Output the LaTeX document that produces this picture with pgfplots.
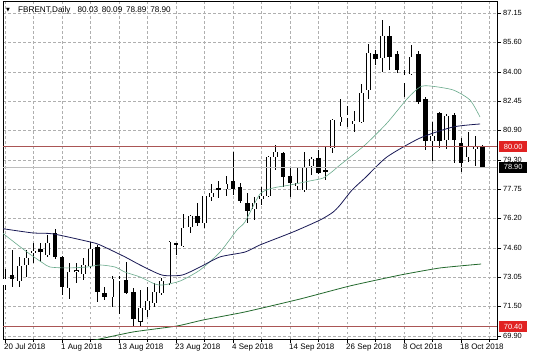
\documentclass[border=0pt]{standalone}
\usepackage{pgfplots}
\usepackage{pgfplotstable}
\pgfplotsset{compat=1.18}
\usepackage{fontspec}
\setmainfont{Liberation Sans}
\newfontfamily\dejavu{DejaVu Sans}
\definecolor{gridc}{RGB}{175,175,175}
\definecolor{maFast}{RGB}{105,170,140}
\definecolor{maMid}{RGB}{25,25,85}
\definecolor{maSlow}{RGB}{35,105,45}
\definecolor{hline}{RGB}{170,85,85}
\definecolor{boxred}{RGB}{225,35,35}
\definecolor{bidc}{RGB}{190,190,190}
% i = bar index, l = low, bl = body low, bh = body high, h = high
\pgfplotstableread{
i l bl bh h
0 72.35 72.62 72.94 73.47
2 72.51 72.83 73.63 74.12
3 73.05 73.69 74.06 74.49
4 73.79 74.33 74.44 74.86
6 74.12 74.22 74.86 75.29
9 71.87 72.46 73.31 73.79
10 72.73 73.31 73.40 73.79
11 72.89 73.21 73.69 74.06
12 73.53 73.63 74.54 74.92
15 71.45 71.98 72.94 73.10
16 71.07 72.83 72.94 73.10
19 70.43 70.69 71.39 72.35
20 70.91 71.28 71.77 72.51
21 71.45 71.66 72.25 72.73
22 72.09 72.19 72.83 72.99
23 72.62 72.73 74.92 74.97
25 74.65 74.70 75.67 76.41
26 75.40 75.72 76.31 76.36
28 75.67 75.93 77.37 77.40
29 77.11 77.32 77.53 78.02
31 77.37 77.75 78.02 78.44
35 76.09 76.68 77.00 77.32
36 76.89 77.21 77.37 77.85
37 77.32 77.37 79.46 79.51
38 78.76 79.46 79.72 80.10
41 77.69 77.91 78.07 78.92
42 77.59 77.69 78.87 79.72
43 78.50 78.98 79.35 79.46
46 79.67 79.94 81.43 81.49
47 81.11 81.33 81.59 82.56
48 81.06 81.54 81.70 82.18
49 80.79 81.22 81.38 81.91
50 81.27 81.33 82.88 83.36
51 82.56 83.04 85.01 85.49
53 83.99 84.75 85.92 86.78
56 82.66 83.41 83.84 84.10
57 83.84 83.89 84.80 85.44
60 79.24 80.31 80.58 81.33
62 79.89 80.37 81.65 81.75
65 79.19 79.46 79.99 80.79
66 78.98 79.89 80.05 80.58
}\bull
\pgfplotstableread{
i l bl bh h
1 72.51 72.94 73.15 74.49
5 73.85 74.38 74.54 74.86
7 74.01 74.12 75.40 75.61
8 72.09 72.51 74.12 74.15
13 71.71 72.25 74.65 74.76
14 71.82 71.98 72.19 72.51
17 72.14 72.19 72.89 73.85
18 70.35 70.80 72.25 72.46
24 74.22 74.76 74.86 74.88
27 75.77 75.93 76.31 77.00
30 77.27 77.69 77.80 78.18
32 77.43 77.75 78.18 79.72
33 77.00 77.11 77.85 78.07
34 75.93 76.57 77.00 77.53
39 77.85 78.39 79.67 79.72
40 77.32 78.07 78.44 78.92
44 78.55 78.60 79.40 79.83
45 78.23 78.66 78.76 79.99
52 84.37 84.69 84.96 85.17
54 84.10 84.80 85.92 86.46
55 83.94 84.10 84.96 85.12
58 82.29 82.40 84.96 85.12
59 79.83 80.31 82.56 82.66
61 79.94 80.31 81.81 81.86
63 79.14 80.37 81.70 81.81
64 78.66 79.14 80.21 80.47
67 78.89 78.90 80.03 80.09
}\bear
\pgfplotsset{
  wick/.style={draw=none, mark=none, error bars/.cd, y dir=both, y explicit, error mark=none,
    error bar style={draw=black, solid, line width=0.7bp}},
  body/.style={draw=none, mark=none, error bars/.cd, y dir=both, y explicit, error mark=none,
    error bar style={draw=#1, solid, line width=4.6bp}},
  inner/.style={draw=none, mark=none, error bars/.cd, y dir=both, y explicit, error mark=none,
    error bar style={draw=white, solid, line width=3.2bp}},
}
\begin{document}
\begin{tikzpicture}[font=\fontsize{7.5}{9}\selectfont]
\fill[white] (0,0) rectangle (536bp,358bp);
\path[use as bounding box] (0,0) rectangle (536bp,358bp);
\begin{axis}[
  at={(3bp,19bp)}, anchor=south west,
  width=494bp, height=338bp, scale only axis,
  xmin=-0.281, xmax=69.05, ymin=69.735, ymax=87.79,
  axis line style={black, line width=0.8bp},
  xtick={0,8,...,64},
  xticklabels={20 Jul 2018,1 Aug 2018,13 Aug 2018,23 Aug 2018,4 Sep 2018,14 Sep 2018,26 Sep 2018,8 Oct 2018,18 Oct 2018},
  minor xtick={4,12,...,68},
  ytick={69.90,71.50,73.05,74.60,76.20,77.75,79.30,80.90,82.45,84.00,85.60,87.15},
  yticklabels={69.90,71.50,73.05,74.60,76.20,77.75,79.30,80.90,82.45,84.00,85.60,87.15},
  xtick pos=left, ytick pos=right, yticklabel pos=right,
  tick align=outside, major tick length=4bp, minor tick length=2.5bp,
  tick style={black, line width=0.7bp},
  xmajorgrids, xminorgrids, ymajorgrids,
  major grid style={gridc, dash pattern=on 2.5bp off 2.5bp, line width=0.5bp},
  minor grid style={gridc, dash pattern=on 2.5bp off 2.5bp, line width=0.5bp},
  xticklabel style={anchor=north west, xshift=-2bp, inner sep=1bp, font=\fontsize{8}{9.6}\selectfont},
  yticklabel style={anchor=west, inner sep=1bp, xshift=1bp},
]
% wicks
\addplot[wick] table[x=i, y expr={(\thisrow{l}+\thisrow{h})/2}, y error expr={(\thisrow{h}-\thisrow{l})/2}] {\bull};
\addplot[wick] table[x=i, y expr={(\thisrow{l}+\thisrow{h})/2}, y error expr={(\thisrow{h}-\thisrow{l})/2}] {\bear};
% bodies
\addplot[body=black] table[x=i, y expr={(\thisrow{bl}+\thisrow{bh})/2}, y error expr={(\thisrow{bh}-\thisrow{bl})/2+0.02}] {\bear};
\addplot[body=black] table[x=i, y expr={(\thisrow{bl}+\thisrow{bh})/2}, y error expr={(\thisrow{bh}-\thisrow{bl})/2+0.02}] {\bull};
\addplot[inner] table[x=i, y expr={(\thisrow{bl}+\thisrow{bh})/2}, y error expr={max((\thisrow{bh}-\thisrow{bl})/2-0.02,0)}] {\bull};
% moving averages
\addplot[maFast, line width=0.6bp, smooth, tension=0.4] coordinates {
(-0.3,75.40) (0,75.29) (3.09,74.38) (5.33,73.79) (6.32,73.58) (8.70,73.53) (11.51,73.58) (13.33,73.69)
(15.44,73.58) (16.84,73.31) (18.95,73.05) (21.05,72.67) (22.18,72.62) (24.56,72.83) (27.37,73.42)
(30.18,74.38) (32.56,75.56) (33.68,75.99) (35.79,77.48) (37.61,77.80) (40.0,77.96) (42.81,78.18)
(44.63,78.33) (46.0,78.70) (47.02,79.03) (50.53,80.10) (53.61,81.27) (56.42,82.56) (58.25,83.20)
(59.65,83.25) (62.88,83.04) (65.26,82.50) (66.67,81.59)};
\addplot[maMid, line width=0.8bp, smooth, tension=0.4] coordinates {
(-0.3,75.63) (0,75.61) (3.93,75.40) (6.74,75.35) (11.93,74.92) (13.33,74.76) (16.84,74.12) (18.95,73.69)
(22.04,73.15) (24.84,73.15) (27.37,73.58) (30.18,74.12) (33.68,74.38) (35.79,74.76) (40.42,75.45)
(44.21,76.09) (46.0,76.50) (47.02,76.89) (48.70,77.69) (50.53,78.34) (53.61,79.46) (58.25,80.47)
(62.88,81.06) (66.67,81.22)};
\addplot[maSlow, line width=0.8bp, smooth, tension=0.3] coordinates {
(10.5,69.50) (12.63,69.68) (17.96,70.11) (24.14,70.43) (27.79,70.75) (33.68,71.18) (41.40,71.87)
(48.42,72.57) (55.44,73.15) (61.05,73.53) (66.81,73.74)};
% horizontal lines
\addplot[hline, line width=0.9bp] coordinates {(-0.281,80.00) (69.05,80.00)};
\addplot[hline, line width=0.9bp] coordinates {(-0.281,70.40) (69.05,70.40)};
\addplot[bidc, line width=0.6bp] coordinates {(-0.281,78.90) (69.05,78.90)};
\end{axis}
% price labels
\node[fill=boxred, text=white, inner sep=0pt, minimum width=28bp, minimum height=11bp, anchor=west] at (499bp,211.2bp) {80.00};
\node[fill=black, text=white, inner sep=0pt, minimum width=28bp, minimum height=11bp, anchor=west] at (499bp,190.6bp) {78.90};
\node[fill=boxred, text=white, inner sep=0pt, minimum width=28bp, minimum height=11bp, anchor=west] at (499bp,31.4bp) {70.40};
% title
\node[anchor=west, inner sep=0pt] at (6bp,348bp) {\dejavu\fontsize{5}{6}\selectfont ▼};
\node[anchor=west, inner sep=0pt, font=\fontsize{8.2}{9.6}\selectfont] at (18bp,348bp) {FBRENT,Daily\hspace{5bp} 80.03\hspace{1.5bp} 80.09\hspace{1.5bp} 78.89\hspace{1.5bp} 78.90};
\end{tikzpicture}
\end{document}
